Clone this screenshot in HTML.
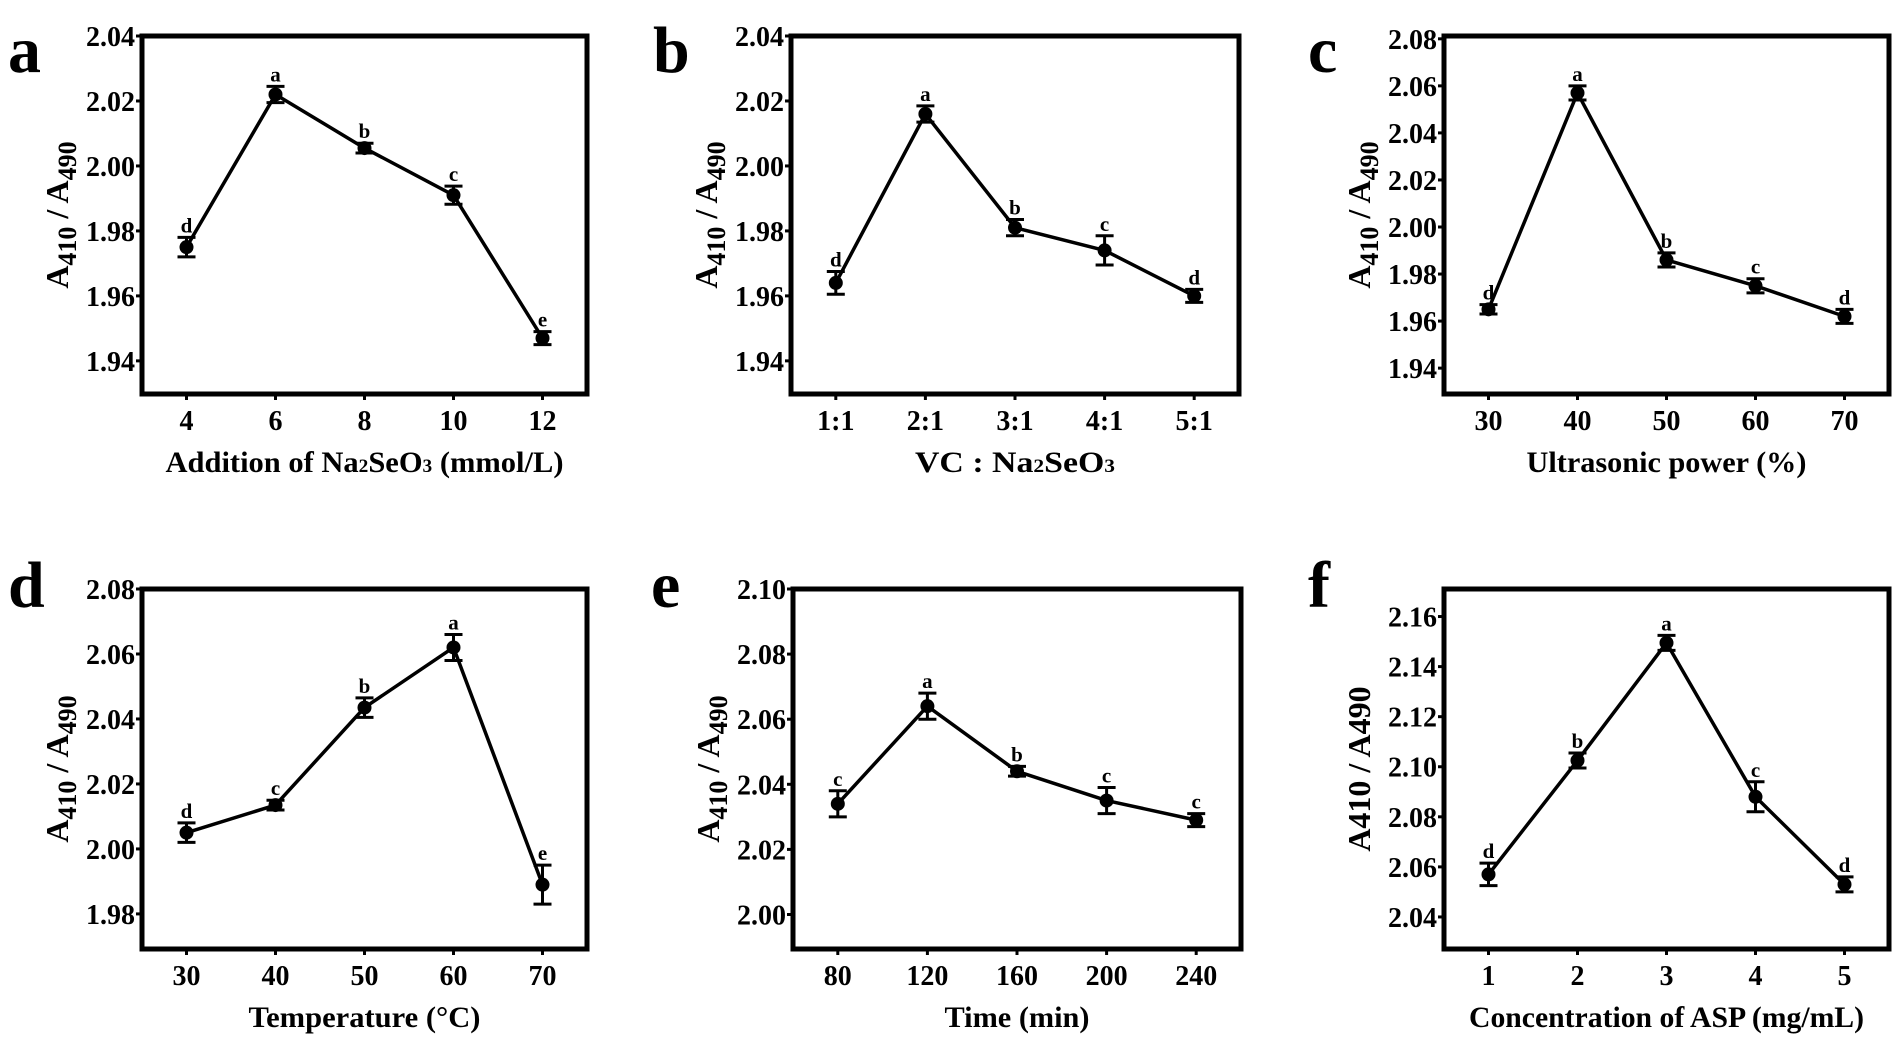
<!DOCTYPE html>
<html><head><meta charset="utf-8">
<style>
html,body{margin:0;padding:0;background:#fff;}
svg{display:block;font-family:"Liberation Serif","DejaVu Serif",serif;font-weight:bold;}
</style></head>
<body>
<svg id="fig" width="1901" height="1037" viewBox="0 0 1901 1037" xmlns="http://www.w3.org/2000/svg"></svg>
<script>
// ---- data ----
const catsA = ["4","6","8","10","12"];
const valsA = [1.975, 2.022, 2.0055, 1.991, 1.947];
const errA  = [0.003, 0.0025, 0.0015, 0.0028, 0.002];
const letA  = ["d","a","b","c","e"];
const ticksA = ["1.94","1.96","1.98","2.00","2.02","2.04"];

const catsB = ["1:1","2:1","3:1","4:1","5:1"];
const valsB = [1.964, 2.016, 1.981, 1.974, 1.960];
const errB  = [0.0035, 0.0025, 0.0025, 0.0045, 0.002];
const letB  = ["d","a","b","c","d"];
const ticksB = ["1.94","1.96","1.98","2.00","2.02","2.04"];

const catsC = ["30","40","50","60","70"];
const valsC = [1.965, 2.057, 1.986, 1.975, 1.962];
const errC  = [0.002, 0.003, 0.003, 0.003, 0.003];
const letC  = ["d","a","b","c","d"];
const ticksC = ["1.94","1.96","1.98","2.00","2.02","2.04","2.06","2.08"];

const catsD = ["30","40","50","60","70"];
const valsD = [2.005, 2.0135, 2.0435, 2.062, 1.989];
const errD  = [0.003, 0.0015, 0.003, 0.004, 0.006];
const letD  = ["d","c","b","a","e"];
const ticksD = ["1.98","2.00","2.02","2.04","2.06","2.08"];

const catsE = ["80","120","160","200","240"];
const valsE = [2.034, 2.064, 2.044, 2.035, 2.029];
const errE  = [0.004, 0.004, 0.0015, 0.004, 0.002];
const letE  = ["c","a","b","c","c"];
const ticksE = ["2.00","2.02","2.04","2.06","2.08","2.10"];

const catsF = ["1","2","3","4","5"];
const valsF = [2.057, 2.1025, 2.1495, 2.088, 2.053];
const errF  = [0.0045, 0.003, 0.003, 0.006, 0.003];
const letF  = ["d","b","a","c","d"];
const ticksF = ["2.04","2.06","2.08","2.10","2.12","2.14","2.16"];

const NS = "http://www.w3.org/2000/svg";
const svg = document.getElementById('fig');
function mk(tag, attrs, parent){
  const e = document.createElementNS(NS, tag);
  for (const k in attrs) e.setAttribute(k, attrs[k]);
  (parent||svg).appendChild(e);
  return e;
}

function panel(o){
  const g = mk('g', {});
  
  
  const L=o.x0, R=o.x1, T=o.y0, B=o.y1;
  const n = o.cats.length;
  const step = (R-L)/n;
  const xs = i => L + step*(i+0.5);
  const ys = v => B - (v - o.ymin)/(o.ymax - o.ymin)*(B-T);

  // panel letter
  const pl = mk('text', {x:o.lx, y:o.ly, 'font-size':66}, g);
  pl.textContent = o.id;
  
  

  // y ticks
  o.ticks.forEach(t=>{
    const y = ys(parseFloat(t));
    const tk = mk('line', {x1:L-6, x2:L, y1:y, y2:y, stroke:'#000','stroke-width':3}, g);
    
    
    const tl = mk('text', {x:L-7, y:y+10, 'font-size':28, 'text-anchor':'end'}, g);
    tl.textContent = t;
    
    
  });
  // x ticks
  o.cats.forEach((c,i)=>{
    const x = xs(i);
    const tk = mk('line', {x1:x, x2:x, y1:B, y2:B+6, stroke:'#000','stroke-width':3}, g);
    
    
    const tl = mk('text', {x:x, y:B+36, 'font-size':28, 'text-anchor':'middle'}, g);
    tl.textContent = c;
    
    
  });
  // frame
  const fr = mk('rect', {x:L, y:T, width:R-L, height:B-T, fill:'none', stroke:'#000','stroke-width':5}, g);
  
  

  // line
  const pts = o.vals.map((v,i)=> xs(i)+','+ys(v)).join(' ');
  const ln = mk('polyline', {points:pts, fill:'none', stroke:'#000','stroke-width':3.5,'stroke-linejoin':'round'}, g);
  
  

  o.vals.forEach((v,i)=>{
    const x = xs(i), yt = ys(v+o.err[i]), yb = ys(v-o.err[i]);
    const eb = mk('path', {d:`M${x},${yt}V${yb}M${x-9},${yt}H${x+9}M${x-9},${yb}H${x+9}`, stroke:'#000','stroke-width':3, fill:'none'}, g);
    
    
    const pt = mk('circle', {cx:x, cy:ys(v), r:7, fill:'#000'}, g);
    
    
    const lt = mk('text', {x:x, y:yt-5, 'font-size':21, 'text-anchor':'middle'}, g);
    lt.textContent = o.letters[i];
    
    
  });

  // y title
  const cy = (T+B)/2, tx = L-74;
  const yt = mk('text', {x:0, y:0, 'font-size':32, 'text-anchor':'middle', transform:`translate(${tx},${cy}) rotate(-90)`}, g);
  yt.innerHTML = o.sub ? 'A<tspan font-size="26" dy="8">410</tspan><tspan dy="-8"> / A</tspan><tspan font-size="26" dy="8">490</tspan>' : 'A410 / A490';
  
  

  // x title
  const xt = mk('text', {x:(L+R)/2, y:B+78, 'font-size':30, 'text-anchor':'middle', textLength:o.tl, lengthAdjust:'spacingAndGlyphs'}, g);
  xt.innerHTML = o.xtitle;
  
  
}

const sub = s => '<tspan font-size="19">'+s+'</tspan>';
panel({id:'a', x0:142,x1:587,y0:36,y1:394, ymin:1.9298, ymax:2.04, cats:catsA, vals:valsA, err:errA, letters:letA, ticks:ticksA, lx:8, ly:72, sub:true, xtitle:'Addition of Na'+sub('2')+'SeO'+sub('3')+' (mmol/L)', tl:398});
panel({id:'b', x0:791,x1:1239,y0:36,y1:394, ymin:1.9298, ymax:2.04, cats:catsB, vals:valsB, err:errB, letters:letB, ticks:ticksB, lx:653, ly:72, sub:true, xtitle:'VC : Na'+sub('2')+'SeO'+sub('3'), tl:200});
panel({id:'c', x0:1444,x1:1889,y0:36,y1:394, ymin:1.929, ymax:2.0812, cats:catsC, vals:valsC, err:errC, letters:letC, ticks:ticksC, lx:1308, ly:72, sub:true, xtitle:'Ultrasonic power (%)', tl:280});
panel({id:'d', x0:142,x1:587,y0:589,y1:949, ymin:1.9692, ymax:2.08, cats:catsD, vals:valsD, err:errD, letters:letD, ticks:ticksD, lx:8, ly:607, sub:true, xtitle:'Temperature (°C)', tl:232});
panel({id:'e', x0:793,x1:1241,y0:589,y1:949, ymin:1.9894, ymax:2.10, cats:catsE, vals:valsE, err:errE, letters:letE, ticks:ticksE, lx:651, ly:607, sub:true, xtitle:'Time (min)', tl:145});
panel({id:'f', x0:1444,x1:1889,y0:589,y1:949, ymin:2.0272, ymax:2.171, cats:catsF, vals:valsF, err:errF, letters:letF, ticks:ticksF, lx:1308, ly:607, sub:false, xtitle:'Concentration of ASP (mg/mL)', tl:395});
</script>
</body></html>
